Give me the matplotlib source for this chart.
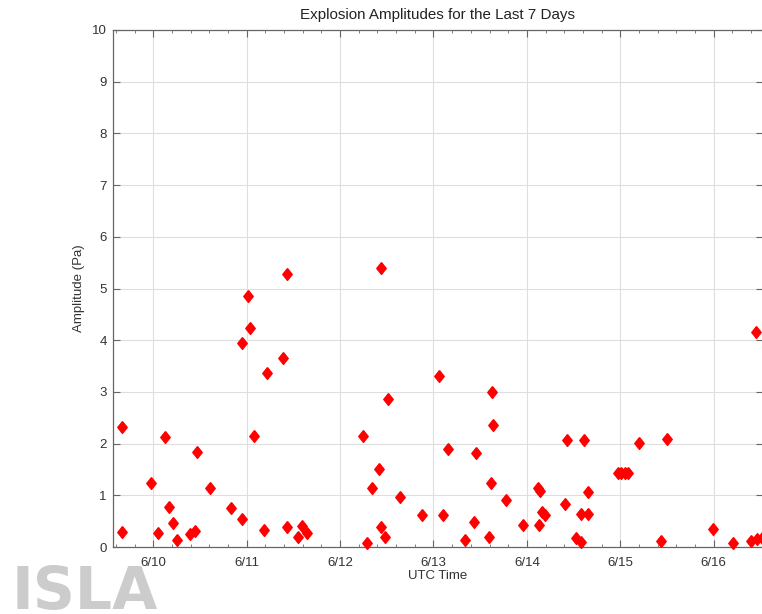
import matplotlib
matplotlib.use("Agg")
import matplotlib.pyplot as plt
from matplotlib.ticker import FixedLocator, MultipleLocator

plt.rcParams['font.family'] = ['Liberation Sans', 'DejaVu Sans']

# Event times (day of June, UTC) and explosion amplitudes (Pa)
event_days = [
    9.668, 9.668, 9.972, 10.047, 10.125, 10.171, 10.214, 10.257, 10.393, 10.446,
    10.465, 10.607, 10.829, 10.953, 10.953, 11.017, 11.035, 11.078, 11.185, 11.220,
    11.392, 11.428, 11.428, 11.552, 11.595, 11.642,
    12.248, 12.285, 12.345, 12.417, 12.435, 12.438, 12.486, 12.510, 12.641, 12.880,
    13.059, 13.102, 13.158, 13.337, 13.434, 13.452, 13.597, 13.616, 13.623, 13.634,
    13.773, 13.961,
    14.122, 14.133, 14.140, 14.165, 14.194, 14.408, 14.433, 14.526, 14.576, 14.579,
    14.615, 14.651, 14.657,
    14.975, 15.013, 15.050, 15.088, 15.197, 15.433, 15.497, 15.993, 16.203, 16.396,
    16.450, 16.460, 16.517,
]
amplitudes = [
    2.33, 0.29, 1.24, 0.27, 2.13, 0.78, 0.47, 0.14, 0.25, 0.30,
    1.84, 1.15, 0.76, 0.54, 3.95, 4.86, 4.23, 2.14, 0.32, 3.36,
    3.65, 5.28, 0.38, 0.19, 0.41, 0.28,
    2.15, 0.07, 1.15, 1.50, 0.39, 5.39, 0.20, 2.86, 0.97, 0.61,
    3.31, 0.61, 1.89, 0.135, 0.48, 1.81, 0.19, 1.24, 2.99, 2.36,
    0.91, 0.43,
    1.15, 0.43, 1.08, 0.68, 0.62, 0.83, 2.06, 0.17, 0.10, 0.64,
    2.06, 0.64, 1.06,
    1.44, 1.44, 1.44, 1.44, 2.02, 0.12, 2.08, 0.34, 0.08, 0.12,
    4.15, 0.15, 0.17,
]

tick_days = [10, 11, 12, 13, 14, 15, 16]
tick_labels = ["6/10", "6/11", "6/12", "6/13", "6/14", "6/15", "6/16"]
y_ticks = list(range(0, 11))

W, H = 762, 614
fig = plt.figure(figsize=(W / 100, H / 100), dpi=100)
ax = fig.add_axes([113 / W, 1 - 547 / H, (763 - 113) / W, (547 - 30) / H])

diamond = [(0, 1), (0.8, 0), (0, -1), (-0.8, 0), (0, 1)]
ax.plot(event_days, amplitudes, linestyle='none', marker=diamond,
        markersize=8.5, color='#ff0000', markeredgecolor='#ff0000',
        clip_on=False, zorder=3)

ax.set_xlim(9.569, 16.528)
ax.set_ylim(0, 10)
ax.xaxis.set_major_locator(FixedLocator(tick_days))
ax.set_xticklabels(tick_labels)
ax.xaxis.set_minor_locator(MultipleLocator(0.2))
ax.set_yticks(y_ticks)

ax.grid(True, which='major', color='#dedede', linewidth=0.8, linestyle='-')
ax.set_axisbelow(True)

for s in ax.spines.values():
    s.set_color('#666666')
    s.set_linewidth(0.9)

ax.tick_params(which='both', direction='in', top=True, right=True,
               color='#666666', labelcolor='#333333', labelsize=9.5)
ax.tick_params(axis='x', which='major', length=5, pad=7)
ax.tick_params(axis='x', which='minor', length=2.5)
ax.tick_params(axis='y', which='major', length=5, pad=4.5)

ax.set_title("Explosion Amplitudes for the Last 7 Days", fontsize=10.9,
             color='#222222', pad=8)
ax.set_xlabel("UTC Time", fontsize=9.5, color='#333333', labelpad=1)
ax.set_ylabel("Amplitude (Pa)", fontsize=9.5, color='#333333', labelpad=5)

# Logo in the lower-left corner
fig.text(12 / W, 1 - 609 / H, "ISLA", fontsize=42, fontweight='bold',
         family='DejaVu Sans', color='#cccccc', ha='left', va='baseline')

fig.savefig("out.png", dpi=100)
